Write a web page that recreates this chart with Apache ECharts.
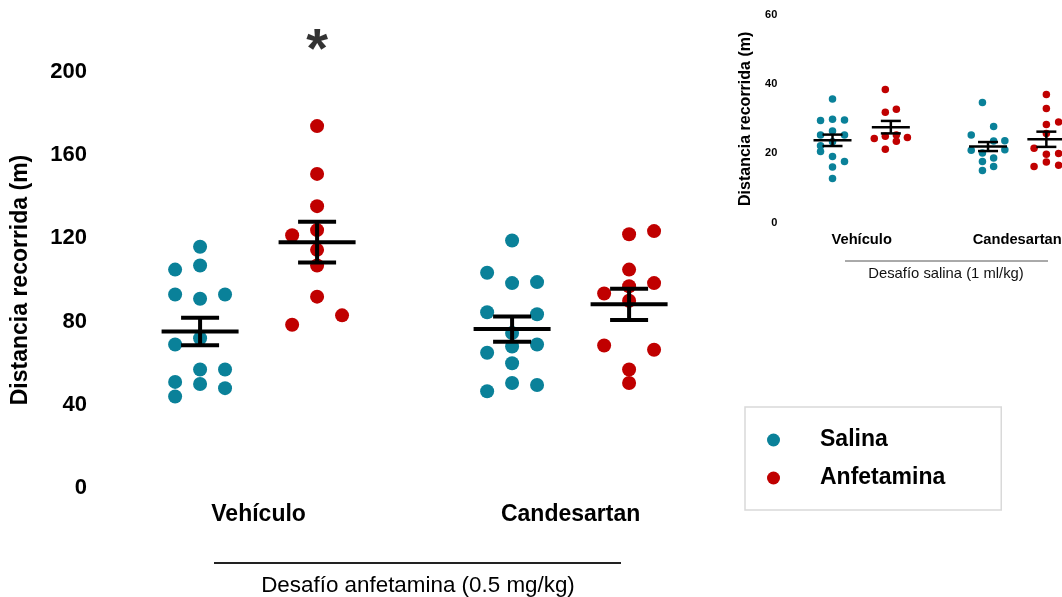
<!DOCTYPE html>
<html>
<head>
<meta charset="utf-8">
<script src="https://cdn.jsdelivr.net/npm/echarts@6/dist/echarts.min.js"></script>
<style>
  html, body { margin: 0; padding: 0; background: #fff; }
  #chart { width: 1062px; height: 597px; }
</style>
</head>
<body>
<div id="chart"></div>
<script>
// groups on the x axis, treatments inside each group
const categories = ['Vehículo', 'Candesartan'];
const treatments = ['Salina', 'Anfetamina'];

// main panel: Desafío anfetamina. each point is [metres, lane in the swarm]
const mainSalVeh = [[116, 0], [105, -1], [107, 0], [93, -1], [91, 0], [93, 1], [69, -1],
  [72, 0], [51, -1], [57, 0], [57, 1], [50, 0], [48, 1], [44, -1]];
const mainAnfVeh = [[174, 0], [151, 0], [135.5, 0], [121.5, -1], [124, 0], [114.5, 0],
  [107, 0], [92, 0], [83, 1], [78.5, -1]];
const mainSalCand = [[119, 0], [103.5, -1], [98.5, 0], [99, 1], [84.5, -1], [83.5, 1],
  [74.5, 0], [69, 1], [65, -1], [68, 0], [60, 0], [46.5, -1], [50.5, 0], [49.5, 1]];
const mainAnfCand = [[122, 0], [123.5, 1], [105, 0], [98.5, 1], [97, 0], [93.5, -1],
  [90, 0], [68.5, -1], [66.5, 1], [57, 0], [50.5, 0]];
const mainMeanSal = [75.2, 76.4];
const mainSemSal = [6.6, 6.1];
const mainMeanAnf = [118.2, 88.3];
const mainSemAnf = [9.8, 7.5];
const mainTicks = [0, 40, 80, 120, 160, 200];

// inset panel: Desafío salina
const insetSalVeh = [[35.7, 0], [29.5, -1], [29.9, 0], [29.7, 1], [25.3, -1], [26.5, 0],
  [25.3, 1], [23.4, 0], [22.2, -1], [20.6, -1], [19.1, 0], [17.7, 1], [16.1, 0], [12.8, 0]];
const insetAnfVeh = [[38.5, -0.5], [31.9, -0.5], [32.8, 0.5], [24.3, -1.5], [25.0, -0.5],
  [25.3, 0.5], [23.5, 0.5], [24.6, 1.5], [21.2, -0.5]];
const insetSalCand = [[34.7, -0.5], [27.8, 0.5], [25.3, -1.5], [23.7, 1.5], [23.6, 0.5],
  [20.9, -1.5], [21.1, 1.5], [20.1, -0.5], [18.7, 0.5], [17.7, -0.5], [16.2, 0.5], [15.1, -0.5]];
const insetAnfCand = [[37.0, 0], [33.0, 0], [28.4, 0], [29.1, 1], [25.8, 0], [21.5, -1],
  [19.8, 0], [20.0, 1], [17.5, 0], [16.6, 1], [16.2, -1]];
const insetMeanSal = [23.8, 22.0];
const insetSemSal = [1.65, 1.3];
const insetMeanAnf = [27.6, 24.1];
const insetSemAnf = [1.8, 2.2];
const insetTicks = [0, 20, 40, 60];

const sigGroups = ['Vehículo']; // anfetamina vs salina, p < 0.05

const TEAL = '#0a8199';
const RED = '#c00000';
const FONT = 'Liberation Sans, Arial, sans-serif';
const PAIR_GAP = 0.375;

const xOf = (g, t) => 1 + g + t * PAIR_GAP;
const toPoints = (arr, g, t, laneW) => arr.map(([v, lane]) => [xOf(g, t) + lane * laneW, v]);
const semData = (means, sems, t) => means.map((m, g) => [xOf(g, t), m, sems[g]]);

function semBars(half, cap, lw) {
  return function (params, api) {
    const x = api.value(0), m = api.value(1), s = api.value(2);
    const c = api.coord([x, m]);
    const hi = api.coord([x, m + s]);
    const lo = api.coord([x, m - s]);
    const st = { stroke: '#000', lineWidth: lw };
    const ln = (x1, y1, x2, y2) => ({ type: 'line', shape: { x1, y1, x2, y2 }, style: st });
    return {
      type: 'group',
      children: [
        ln(c[0], hi[1], c[0], lo[1]),
        ln(c[0] - half, c[1], c[0] + half, c[1]),
        ln(c[0] - cap, hi[1], c[0] + cap, hi[1]),
        ln(c[0] - cap, lo[1], c[0] + cap, lo[1])
      ]
    };
  };
}

const chart = echarts.init(document.getElementById('chart'));

function xAxisCfg(gridIndex, min, max, fontSize, margin) {
  return {
    type: 'value', gridIndex, min, max,
    axisLine: { show: false }, axisTick: { show: false }, splitLine: { show: false },
    axisLabel: {
      customValues: categories.map((c, g) => xOf(g, 0.5)),
      formatter: v => categories[Math.round(v - 1)],
      fontSize, fontWeight: 'bold', color: '#000', fontFamily: FONT, margin
    }
  };
}

function yAxisCfg(gridIndex, ticks, fontSize, nameSize, nameGap) {
  return {
    type: 'value', gridIndex,
    min: ticks[0], max: ticks[ticks.length - 1], interval: ticks[1] - ticks[0],
    axisLine: { show: false }, axisTick: { show: false }, splitLine: { show: false },
    axisLabel: { fontSize, fontWeight: 'bold', color: '#000', fontFamily: FONT, margin: 7 },
    name: 'Distancia recorrida (m)', nameLocation: 'middle', nameGap,
    nameTextStyle: { fontSize: nameSize, fontWeight: 'bold', color: '#000', fontFamily: FONT }
  };
}

const option = {
  animation: false,
  backgroundColor: '#fff',
  textStyle: { fontFamily: FONT },
  grid: [
    { left: 94, top: 72, width: 636.5, height: 416, outerBoundsMode: 'none' },
    { left: 784.3, top: 15, width: 312.6, height: 207.7, outerBoundsMode: 'none' }
  ],
  xAxis: [
    xAxisCfg(0, 0.66, 2.7, 23, 15),
    xAxisCfg(1, 0.69, 2.7, 14.7, 10)
  ],
  yAxis: [
    yAxisCfg(0, mainTicks, 22, 23, 62),
    yAxisCfg(1, insetTicks, 11, 16, 31)
  ],
  legend: {
    data: treatments,
    orient: 'vertical',
    left: 745, top: 407,
    icon: 'circle',
    itemWidth: 13, itemHeight: 13, itemGap: 14,
    padding: [21, 56, 20, 22],
    borderColor: '#d9d9d9', borderWidth: 1.5,
    textStyle: { fontSize: 23, fontWeight: 'bold', color: '#000', fontFamily: FONT,
      lineHeight: 24, padding: [0, 0, 0, 35] }
  },
  graphic: [
    { type: 'line', shape: { x1: 214, y1: 563, x2: 621, y2: 563 }, style: { stroke: '#222', lineWidth: 2 } },
    { type: 'text', x: 418, y: 586, style: { text: 'Desafío anfetamina (0.5 mg/kg)', font: '22.4px ' + FONT,
      fill: '#000', align: 'center', verticalAlign: 'middle' } },
    { type: 'line', shape: { x1: 845, y1: 261, x2: 1048, y2: 261 }, style: { stroke: '#555', lineWidth: 1 } },
    { type: 'text', x: 946, y: 274, style: { text: 'Desafío salina (1 ml/kg)', font: '14.8px ' + FONT,
      fill: '#111', align: 'center', verticalAlign: 'middle' } }
  ],
  series: [
    { name: 'Salina', type: 'scatter', xAxisIndex: 0, yAxisIndex: 0, symbolSize: 14, z: 2,
      itemStyle: { color: TEAL, opacity: 1 },
      data: toPoints(mainSalVeh, 0, 0, 0.08).concat(toPoints(mainSalCand, 1, 0, 0.08)) },
    { name: 'Anfetamina', type: 'scatter', xAxisIndex: 0, yAxisIndex: 0, symbolSize: 14, z: 2,
      itemStyle: { color: RED, opacity: 1 },
      data: toPoints(mainAnfVeh, 0, 1, 0.08).concat(toPoints(mainAnfCand, 1, 1, 0.08)) },
    { name: 'Salina', type: 'scatter', xAxisIndex: 1, yAxisIndex: 1, symbolSize: 7.5, z: 2,
      itemStyle: { color: TEAL, opacity: 1 },
      data: toPoints(insetSalVeh, 0, 0, 0.077).concat(toPoints(insetSalCand, 1, 0, 0.072)) },
    { name: 'Anfetamina', type: 'scatter', xAxisIndex: 1, yAxisIndex: 1, symbolSize: 7.5, z: 2,
      itemStyle: { color: RED, opacity: 1 },
      data: toPoints(insetAnfVeh, 0, 1, 0.071).concat(toPoints(insetAnfCand, 1, 1, 0.079)) },
    { type: 'custom', xAxisIndex: 0, yAxisIndex: 0, z: 5, encode: { x: 0, y: 1 },
      renderItem: semBars(38.5, 19, 4),
      data: semData(mainMeanSal, mainSemSal, 0).concat(semData(mainMeanAnf, mainSemAnf, 1)) },
    { type: 'custom', xAxisIndex: 1, yAxisIndex: 1, z: 5, encode: { x: 0, y: 1 },
      renderItem: semBars(19, 10, 2.5), clip: false,
      data: semData(insetMeanSal, insetSemSal, 0).concat(semData(insetMeanAnf, insetSemAnf, 1)) },
    { type: 'scatter', xAxisIndex: 0, yAxisIndex: 0, symbolSize: 1, clip: false, silent: true,
      itemStyle: { color: 'rgba(0,0,0,0)' },
      label: { show: true, position: 'top', distance: 0, offset: [0, 8], formatter: '*', color: '#000',
        fontSize: 56, fontWeight: 'bold', fontFamily: FONT },
      data: sigGroups.map(c => [xOf(categories.indexOf(c), 1), mainTicks[mainTicks.length - 1]]) }
  ]
};

chart.setOption(option);
window.addEventListener('resize', () => chart.resize());
</script>
</body>
</html>
